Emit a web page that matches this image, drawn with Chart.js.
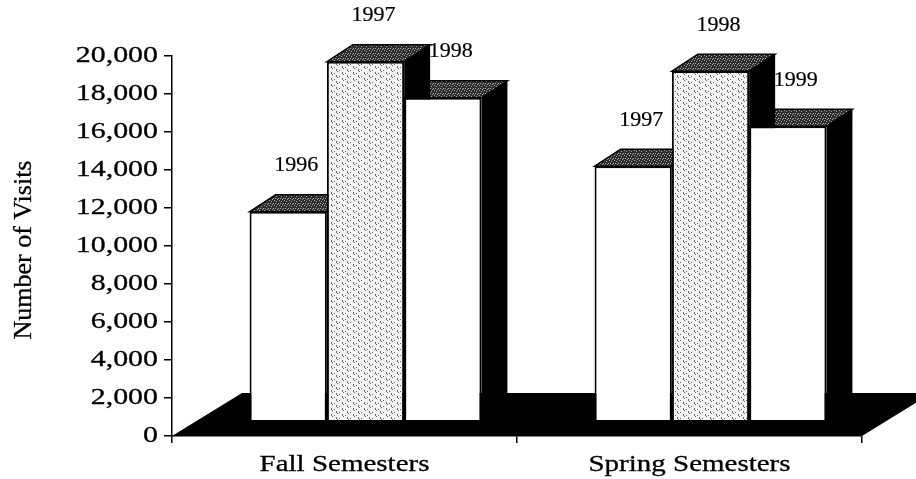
<!DOCTYPE html>
<html>
<head>
<meta charset="utf-8">
<script src="https://cdn.jsdelivr.net/npm/chart.js@4/dist/chart.umd.min.js"></script>
<style>
  body { margin: 0; background: #fff; }
  canvas { display: block; }
</style>
</head>
<body>
<canvas id="chart" width="916" height="479"></canvas>
<script>
// values
const categories = ["Fall Semesters", "Spring Semesters"];
const firstYear = [11800, 14200];
const secondYear = [19700, 19200];
const thirdYear = [17800, 16300];
const firstYearLabels = ["1996", "1997"];
const secondYearLabels = ["1997", "1998"];
const thirdYearLabels = ["1998", "1999"];
const yMin = 0;
const yMax = 20000;
const yStep = 2000;

// 3d look
const FLOOR_DX = 70, FLOOR_DY = 43;  // floor depth
const SHIFT_X = 21;                  // bars stand a bit back on the floor
const BAR_DX = 26, BAR_DY = 17;      // bar depth
const SERIF = "'Liberation Serif', 'Times New Roman', serif";

function makePattern(w, h, bg, fg, dots) {
  const c = document.createElement("canvas");
  c.width = w; c.height = h;
  const g = c.getContext("2d");
  g.fillStyle = bg;
  g.fillRect(0, 0, w, h);
  g.fillStyle = fg;
  dots.forEach(d => g.fillRect(d[0], d[1], 1, 1));
  return g.createPattern(c, "repeat");
}

const ctx0 = document.getElementById("chart").getContext("2d");
const dashed = makePattern(11, 6, "#f4f4f4", "#6a6a6a",
  [[2, 0], [2, 1], [3, 2], [7, 3], [7, 4], [8, 5], [5, 1], [10, 4]]);
const speckle = makePattern(5, 5, "#2e2e2e", "#a8a8a8",
  [[1, 1], [3, 3], [4, 0], [0, 3], [2, 4]]);

const barLabels = [firstYearLabels, secondYearLabels, thirdYearLabels];

// the scan is a bit wide and heavy, so text gets stretched and a thin stroke
function stretchText(ctx, text, x, y, sx, align) {
  ctx.save();
  ctx.translate(x, y);
  ctx.scale(sx, 1);
  ctx.textAlign = align;
  ctx.fillText(text, 0, 0);
  ctx.strokeText(text, 0, 0);
  ctx.restore();
}

const bars3d = {
  id: "bars3d",
  beforeDatasetsDraw(chart) {
    const ctx = chart.ctx;
    const xs = chart.scales.x, ys = chart.scales.y;
    const bottom = ys.getPixelForValue(yMin);

    // black floor
    ctx.save();
    ctx.fillStyle = "#000";
    ctx.beginPath();
    ctx.moveTo(xs.left, bottom);
    ctx.lineTo(xs.right, bottom);
    ctx.lineTo(xs.right + FLOOR_DX, bottom - FLOOR_DY);
    ctx.lineTo(xs.left + FLOOR_DX, bottom - FLOOR_DY);
    ctx.closePath();
    ctx.fill();

    const boxes = [];
    chart.data.datasets.forEach((ds, i) => {
      chart.getDatasetMeta(i).data.forEach(b => {
        boxes.push({
          l: b.x - b.width / 2 + SHIFT_X,
          r: b.x + b.width / 2 + SHIFT_X,
          t: b.y,
          b: b.base
        });
      });
    });

    // tops first, then sides so a side hides the next bar's top
    boxes.forEach(k => {
      ctx.beginPath();
      ctx.moveTo(k.l, k.t);
      ctx.lineTo(k.r, k.t);
      ctx.lineTo(k.r + BAR_DX, k.t - BAR_DY);
      ctx.lineTo(k.l + BAR_DX, k.t - BAR_DY);
      ctx.closePath();
      ctx.fillStyle = speckle;
      ctx.fill();
      ctx.lineWidth = 1.5;
      ctx.strokeStyle = "#000";
      ctx.stroke();
    });
    boxes.forEach(k => {
      ctx.beginPath();
      ctx.moveTo(k.r, k.t);
      ctx.lineTo(k.r + BAR_DX, k.t - BAR_DY);
      ctx.lineTo(k.r + BAR_DX, k.b - BAR_DY);
      ctx.lineTo(k.r, k.b);
      ctx.closePath();
      ctx.fillStyle = "#000";
      ctx.fill();
    });
    ctx.restore();

    ctx.save();
    ctx.translate(SHIFT_X, 0);
  },
  afterDatasetsDraw(chart) {
    const ctx = chart.ctx;
    ctx.restore();

    // year labels above each bar
    ctx.save();
    ctx.fillStyle = "#000";
    ctx.strokeStyle = "#000";
    ctx.lineWidth = 0.2;
    ctx.font = "21px " + SERIF;
    ctx.textBaseline = "middle";
    chart.data.datasets.forEach((ds, i) => {
      chart.getDatasetMeta(i).data.forEach((b, j) => {
        stretchText(ctx, barLabels[i][j], b.x + SHIFT_X + 8, b.y - BAR_DY - 29, 1.05, "center");
      });
    });
    ctx.restore();
  },
  afterDraw(chart) {
    const ctx = chart.ctx;
    const xs = chart.scales.x, ys = chart.scales.y;
    ctx.save();
    ctx.fillStyle = "#000";
    ctx.strokeStyle = "#000";
    ctx.lineWidth = 0.3;
    ctx.textBaseline = "middle";

    ctx.font = "23px " + SERIF;
    ys.ticks.forEach(t => {
      stretchText(ctx, t.value.toLocaleString("en-US"), 158,
        ys.getPixelForValue(t.value), 1.3, "right");
    });
    categories.forEach((c, i) => {
      stretchText(ctx, c, xs.getPixelForValue(i), 465, 1.26, "center");
    });

    ctx.font = "26px " + SERIF;
    ctx.translate(24, (ys.top + ys.bottom) / 2 + 4);
    ctx.rotate(-Math.PI / 2);
    stretchText(ctx, "Number of Visits", 0, 0, 1, "center");
    ctx.restore();
  }
};

const common = {
  borderColor: "#000",
  borderWidth: 2,
  borderSkipped: false,
  base: 740,            // bar fronts stand on the floor, ~14px behind its edge
  barPercentage: 1,
  categoryPercentage: 0.672
};

new Chart(ctx0, {
  type: "bar",
  data: {
    labels: categories,
    datasets: [
      Object.assign({ label: "first", data: firstYear, backgroundColor: "#fff" }, common),
      Object.assign({ label: "second", data: secondYear, backgroundColor: dashed }, common),
      Object.assign({ label: "third", data: thirdYear, backgroundColor: "#fff" }, common)
    ]
  },
  options: {
    responsive: false,
    animation: false,
    events: [],
    layout: { padding: { top: 56, right: 54, left: 0, bottom: 0 } },
    plugins: {
      legend: { display: false },
      tooltip: { enabled: false }
    },
    scales: {
      x: {
        grid: { offset: true, drawOnChartArea: false, drawTicks: true, tickLength: 7, color: "#000", lineWidth: 1.5 },
        border: { display: true, color: "#000", width: 1.5 },
        ticks: { color: "transparent" },
        afterFit(s) { s.height = 43; }
      },
      y: {
        min: yMin,
        max: yMax,
        ticks: { stepSize: yStep, color: "transparent" },
        grid: { drawOnChartArea: false, drawTicks: true, tickLength: 8, color: "#000", lineWidth: 1.5 },
        border: { display: true, color: "#000", width: 1.5 },
        afterFit(s) { s.width = 172; }
      }
    }
  },
  plugins: [bars3d]
});
</script>
</body>
</html>
